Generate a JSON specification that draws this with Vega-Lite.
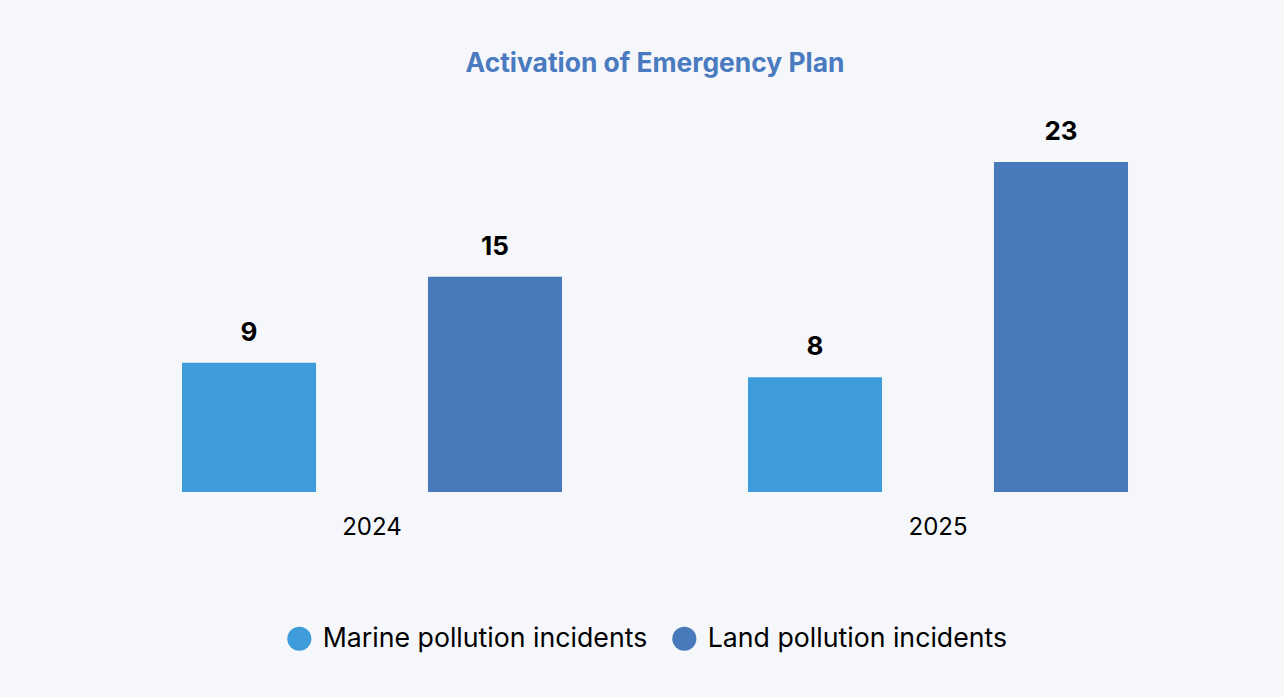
{
  "$schema": "https://vega.github.io/schema/vega-lite/v6.json",
  "autosize": {"type": "none"},
  "width": 1132,
  "height": 330,
  "padding": {"left": 89, "top": 162, "right": 63, "bottom": 205},
  "background": "#f6f7fb",
  "title": {
    "text": "Activation of Emergency Plan",
    "font": "Inter",
    "fontSize": 26.4,
    "fontWeight": "bold",
    "color": "#4a7bc0",
    "anchor": "middle",
    "offset": 42
  },
  "config": {
    "view": {"stroke": null},
    "font": "Inter"
  },
  "data": {
    "values": [
      {"year": "2024", "type": "Marine pollution incidents", "value": 9},
      {"year": "2024", "type": "Land pollution incidents", "value": 15},
      {"year": "2025", "type": "Marine pollution incidents", "value": 8},
      {"year": "2025", "type": "Land pollution incidents", "value": 23}
    ]
  },
  "encoding": {
    "x": {
      "field": "year",
      "type": "nominal",
      "scale": {"paddingInner": 0, "paddingOuter": 0},
      "axis": {
        "title": null,
        "domain": false,
        "ticks": false,
        "tickSize": 0,
        "labelAngle": 0,
        "labelFont": "Inter",
        "labelFontSize": 24,
        "labelColor": "#000000",
        "labelBaseline": "alphabetic",
        "labelPadding": 42
      }
    },
    "xOffset": {
      "field": "type",
      "type": "nominal",
      "sort": ["Marine pollution incidents", "Land pollution incidents"],
      "scale": {"paddingInner": 0.455, "paddingOuter": 0.378}
    },
    "y": {
      "field": "value",
      "type": "quantitative",
      "scale": {"domain": [0, 23], "nice": false},
      "axis": null
    }
  },
  "layer": [
    {
      "mark": {"type": "bar"},
      "encoding": {
        "color": {
          "field": "type",
          "type": "nominal",
          "sort": ["Marine pollution incidents", "Land pollution incidents"],
          "scale": {"range": ["#3d9cd9", "#4779bb"]},
          "legend": {
            "title": null,
            "orient": "none",
            "legendX": 197,
            "legendY": 463,
            "direction": "horizontal",
            "symbolType": "circle",
            "symbolSize": 580,
            "labelFont": "Inter",
            "labelFontSize": 26.7,
            "labelColor": "#000000",
            "labelOffset": 10,
            "columnPadding": 23,
            "labelLimit": 500
          }
        }
      }
    },
    {
      "mark": {
        "type": "text",
        "font": "Inter",
        "fontSize": 26,
        "fontWeight": "bold",
        "color": "#000000",
        "baseline": "alphabetic",
        "dy": -22
      },
      "encoding": {
        "text": {"field": "value", "type": "quantitative"}
      }
    }
  ]
}
